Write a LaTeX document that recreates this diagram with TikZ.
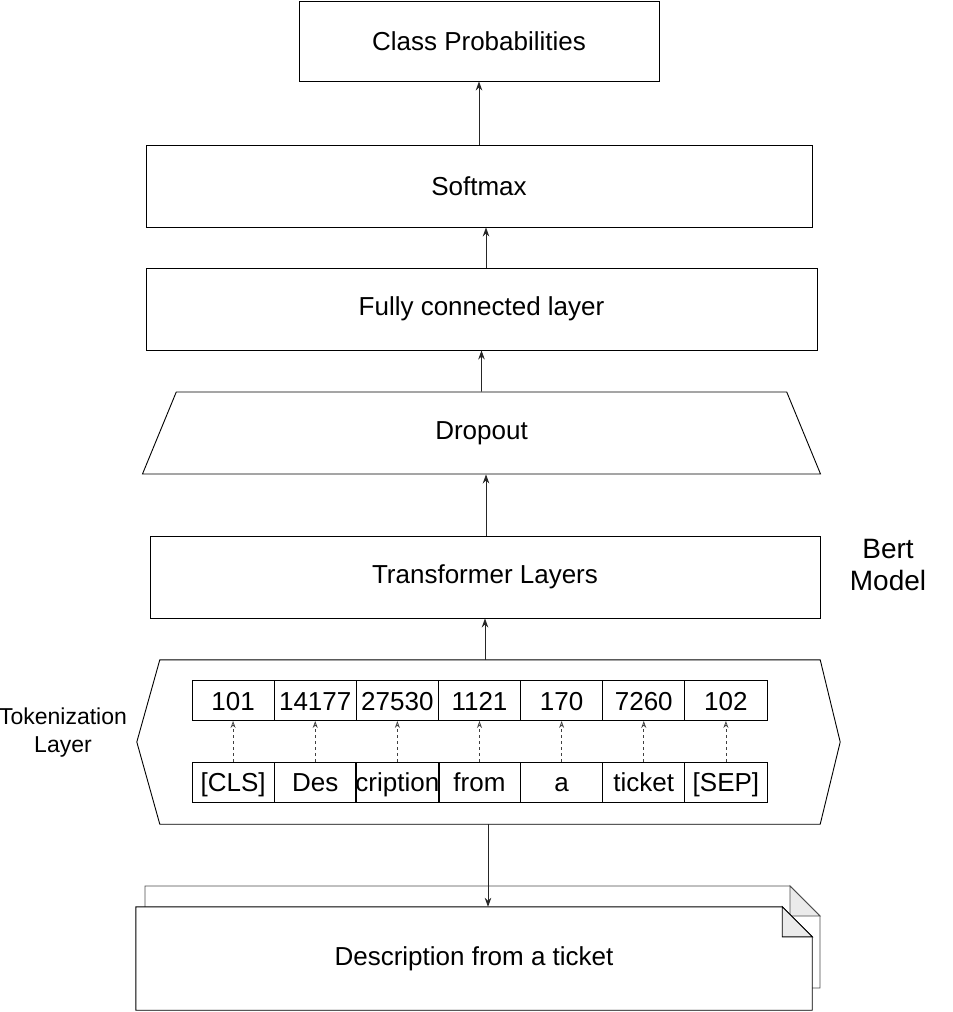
\documentclass[tikz,border=0pt]{standalone}
\usepackage{fontspec}
\setmainfont{Liberation Sans}
\usetikzlibrary{shapes.geometric,arrows.meta}
\begin{document}
\begin{tikzpicture}[x=1pt,y=-1pt,
  lbl/.style={font=\fontsize{26}{30}\selectfont},
  layer/.style={draw=black, line width=0.9pt, fill=white, inner sep=0pt, lbl},
  tokbox/.style={draw=black, line width=0.9pt, minimum width=82.14pt, minimum height=40pt, inner sep=0pt, text height=24pt, text depth=5pt, lbl},
  conn/.style={draw=black!85, line width=0.8pt, -{Stealth[length=9pt,width=6.5pt]}},
  tokconn/.style={draw=black!75, line width=0.7pt, dash pattern=on 3pt off 3pt, -{Stealth[open,length=7pt,width=5pt]}},
  sidelbl/.style={align=center, inner sep=0pt}
]
\useasboundingbox (0,0) rectangle (953,1012);

% layers
\node[layer, minimum width=360pt, minimum height=80pt] (cls) at (479,41) {Class Probabilities};
\node[layer, minimum width=666pt, minimum height=82pt] (soft) at (479,186) {Softmax};
\node[layer, minimum width=671pt, minimum height=82pt] (fc) at (481.5,309) {Fully connected layer};
\node[layer, trapezium, trapezium left angle=77.6, trapezium right angle=77.6, trapezium stretches=true, minimum width=679pt, minimum height=82pt] (drop) at (481.5,433) {Dropout};
\node[layer, minimum width=670pt, minimum height=82pt] (trans) at (485,577) {Transformer Layers};

% bert model label
\node[sidelbl, font=\fontsize{28}{32}\selectfont] (bert) at (888,565) {Bert\\Model};

% tokenization hexagon
\node[minimum width=660pt, minimum height=164pt, inner sep=0pt] (tok) at (490,742) {};
\draw[black, line width=0.9pt] (tok.north west) -- (tok.north east) -- ([xshift=20pt]tok.east) -- (tok.south east) -- (tok.south west) -- ([xshift=-23pt]tok.west) -- cycle;
\node[sidelbl, font=\fontsize{23}{28}\selectfont] (toklbl) at (63,733) {Tokenization\\Layer};

% token boxes
\foreach \i/\n/\w in {1/101/[CLS],2/14177/Des,3/27530/cription,4/1121/from,5/170/a,6/7260/ticket,7/102/[SEP]} {
  \node[tokbox] (t\i) at ({192+82.14*(\i-0.5)},700.5) {\n};
  \node[tokbox] (b\i) at ({192+82.14*(\i-0.5)},782) {\w};
  \draw[tokconn] (b\i.north) -- (t\i.south);
}

% document
\node[minimum width=676pt, minimum height=103pt, inner sep=0pt, lbl] (doc) at (474,958.5) {};
\draw[black!70, line width=0.9pt, fill=white] (145,886) -- (790,886) -- (820,916) -- (820,988) -- (145,988) -- cycle;
\draw[black!70, line width=0.9pt, fill=black!8] (790,886) -- (790,916) -- (820,916) -- cycle;
\draw[black, line width=0.9pt, fill=white] (doc.north west) -- ([xshift=-30pt]doc.north east) -- ([yshift=-30pt]doc.north east) -- (doc.south east) -- (doc.south west) -- cycle;
\draw[black, line width=0.9pt, fill=black!8] ([xshift=-30pt]doc.north east) -- ([xshift=-30pt,yshift=-30pt]doc.north east) -- ([yshift=-30pt]doc.north east) -- cycle;
\node[lbl] (doctext) at (doc.center) {Description from a ticket};

% connectors
\draw[conn] (soft.north -| cls.south) -- (cls.south);
\draw[conn] ([xshift=7pt]fc.north -| soft.south) -- ([xshift=7pt]soft.south);
\draw[conn] (drop.north) -- (fc.south);
\draw[conn] ([xshift=4.5pt]trans.north -| drop.south) -- ([xshift=4.5pt]drop.south);
\draw[conn] (tok.north -| trans.north) -- (trans.south);
\draw[conn] ([xshift=-2pt]tok.south) -- ([xshift=-2pt]tok.south |- doc.north);
\end{tikzpicture}
\end{document}
